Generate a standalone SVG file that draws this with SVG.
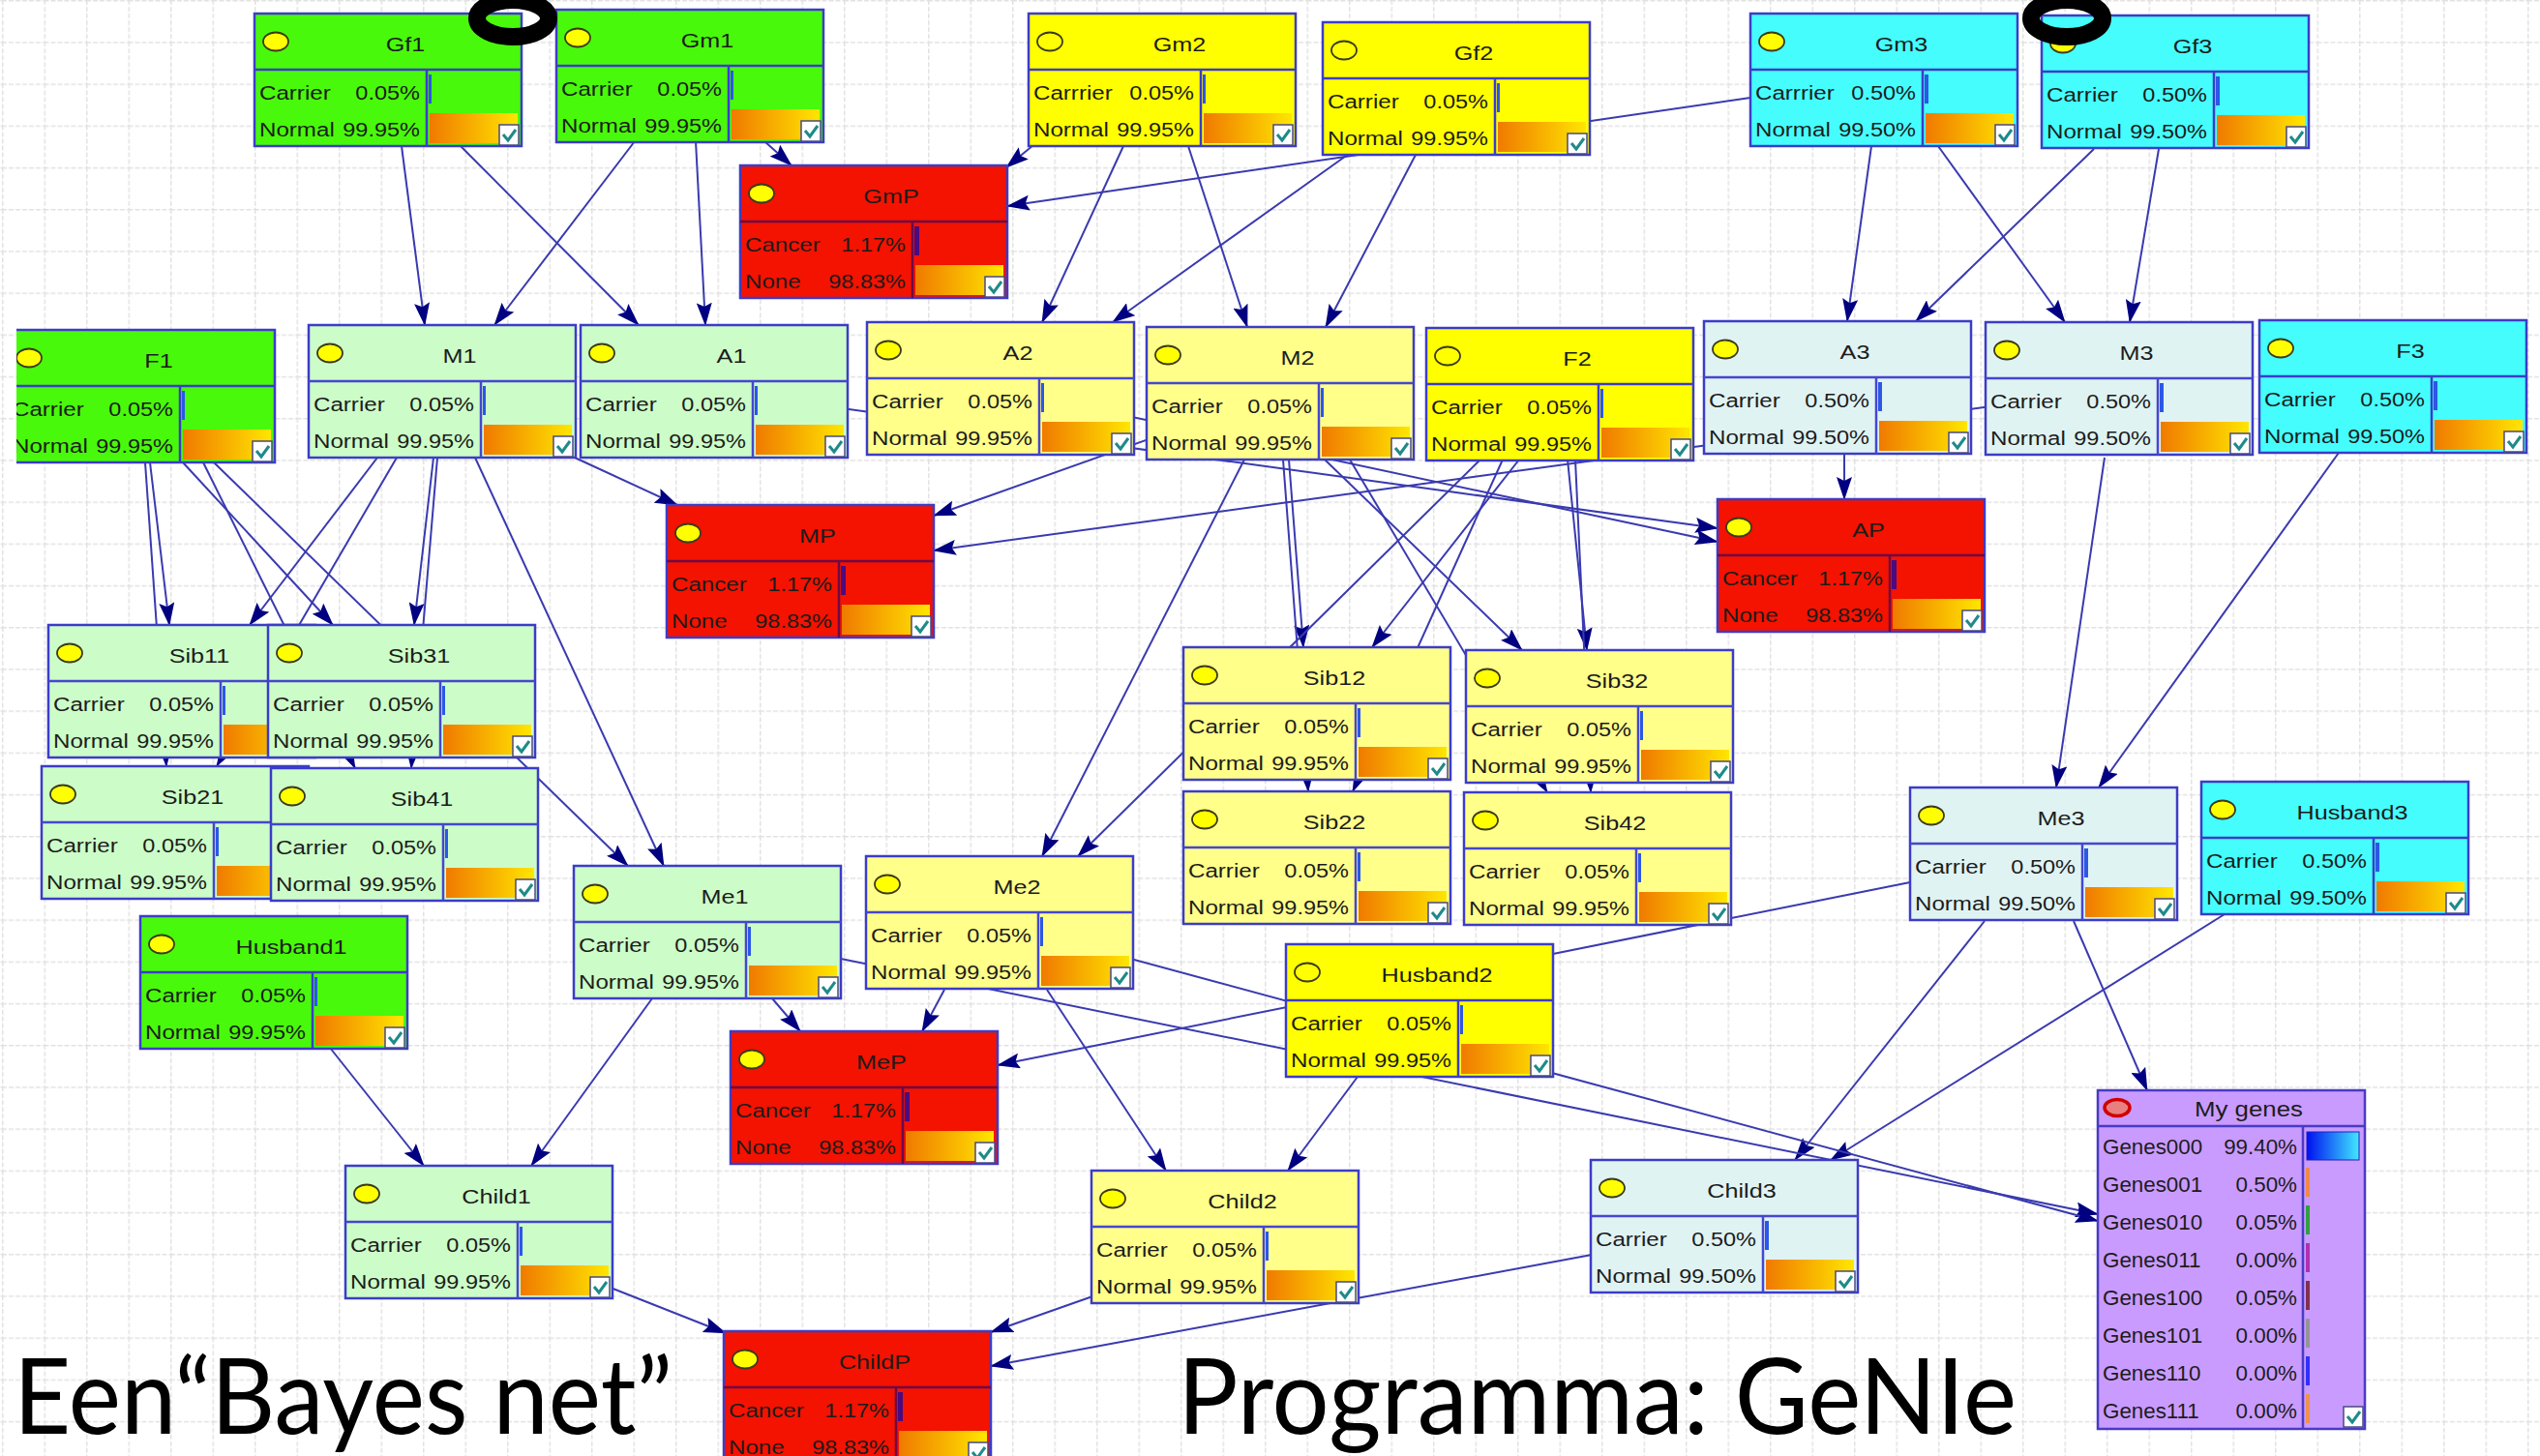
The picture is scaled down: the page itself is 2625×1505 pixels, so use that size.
<svg xmlns="http://www.w3.org/2000/svg" width="2625" height="1505" viewBox="0 0 2625 1505">
<style>
.n text{font-family:"Liberation Sans",Arial,sans-serif;font-size:21px;fill:#1c1c1c}
.n .tt{text-anchor:middle;transform-box:fill-box;transform-origin:center;transform:scaleX(1.2)}
.n .lb{transform-box:fill-box;transform-origin:left center;transform:scaleX(1.15)}
.n .vl{text-anchor:end;transform-box:fill-box;transform-origin:right center;transform:scaleX(1.12)}
.n .gx{font-size:21.5px}
.n .lb.gx{transform:scaleX(1.04)}
.n .vl.gx{transform:scaleX(1.04)}
.g1{fill:#49f90b;stroke:#3c3cc8}
.g2{fill:#ccfdc8;stroke:#4646d0}
.y1{fill:#ffff00;stroke:#3c3cc8}
.y2{fill:#ffff8a;stroke:#4646d0}
.c1{fill:#45fdfd;stroke:#3c3cc8}
.c2{fill:#e0f3f3;stroke:#4646d0}
.rd{fill:#f41200;stroke:#6c0a48}
.pb{fill:#2b58e6}
.pr{fill:#4a0a80}
.big{font-family:Lato,"Open Sans",sans-serif;font-size:108px;fill:#000}
.ring{fill:none;stroke:#000;stroke-width:18}
</style>
<defs>
<pattern id="grid" width="43.5" height="43.2" patternUnits="userSpaceOnUse" x="2" y="0">
<path d="M0.75,0V43.2M0,0.75H43.5" stroke="#e2e2e2" stroke-width="1.5" stroke-dasharray="5 2" fill="none"/>
</pattern>
<linearGradient id="og" x1="0" y1="0" x2="1" y2="0">
<stop offset="0" stop-color="#f07a00"/><stop offset="1" stop-color="#ffe600"/>
</linearGradient>
<linearGradient id="bb" x1="0" y1="0" x2="1" y2="0">
<stop offset="0" stop-color="#0010f0"/><stop offset="1" stop-color="#40e8ff"/>
</linearGradient>
<g id="chk">
<rect width="20" height="21" fill="#fff" stroke="#4a4a80" stroke-width="1.5"/>
<path d="M4,10 L9,16 L17,5" fill="none" stroke="#1f8a8a" stroke-width="3"/>
</g>
<!-- shared node frame: fill and divider stroke come from the referencing use -->
<g id="frame">
<rect width="276" height="137" stroke="#3c3cc8" stroke-width="2.5"/>
<path d="M0,58H276M178,58V137" fill="none" stroke-width="2.5"/>
<ellipse cx="22" cy="29" rx="13" ry="9.5" fill="#ffff00" stroke="#3a3a1a" stroke-width="1.8"/>
<rect x="181" y="103" width="91" height="31" fill="url(#og)" stroke="none"/>
<use href="#chk" x="253" y="115"/>
</g>
<marker id="ah" viewBox="0 0 24 16" refX="23" refY="8" markerWidth="24" markerHeight="16" orient="auto" markerUnits="userSpaceOnUse">
<path d="M0,0 L24,8 L0,16 L4,8 z" fill="#000080"/>
</marker>
<clipPath id="clipL"><rect x="17" y="0" width="600" height="1505"/></clipPath>
</defs>

<rect width="2625" height="1505" fill="#fff"/>
<rect width="2625" height="1505" fill="url(#grid)"/>

<g id="connectors" stroke="#3a3ab0" stroke-width="2" fill="none" marker-end="url(#ah)">
<line x1="415" y1="151" x2="439" y2="336"/>
<line x1="656" y1="146" x2="511" y2="336"/>
<line x1="476" y1="151" x2="660" y2="336"/>
<line x1="719" y1="146" x2="729" y2="336"/>
<line x1="790" y1="146" x2="818" y2="171"/>
<line x1="1068" y1="150" x2="1040" y2="173"/>
<line x1="1809" y1="101" x2="1041" y2="213"/>
<line x1="1161" y1="151" x2="1077" y2="333"/>
<line x1="1394" y1="159" x2="1150" y2="333"/>
<line x1="1228" y1="151" x2="1289" y2="338"/>
<line x1="1463" y1="160" x2="1370" y2="338"/>
<line x1="1934" y1="151" x2="1909" y2="332"/>
<line x1="2164" y1="154" x2="1980" y2="332"/>
<line x1="2003" y1="151" x2="2134" y2="333"/>
<line x1="2231" y1="154" x2="2201" y2="333"/>
<line x1="594" y1="473" x2="700" y2="522"/>
<line x1="1322" y1="406" x2="965" y2="533"/>
<line x1="2190" y1="402" x2="965" y2="569"/>
<line x1="738" y1="404" x2="1775" y2="546"/>
<line x1="1034" y1="402" x2="1775" y2="560"/>
<line x1="1906" y1="470" x2="1906" y2="516"/>
<line x1="155" y1="478" x2="175" y2="646"/>
<line x1="150" y1="478" x2="172" y2="792"/>
<line x1="189" y1="478" x2="344" y2="646"/>
<line x1="210" y1="478" x2="367" y2="794"/>
<line x1="221" y1="478" x2="649" y2="895"/>
<line x1="390" y1="473" x2="258" y2="646"/>
<line x1="410" y1="473" x2="224" y2="792"/>
<line x1="448" y1="473" x2="428" y2="646"/>
<line x1="452" y1="473" x2="425" y2="794"/>
<line x1="491" y1="473" x2="686" y2="895"/>
<line x1="1332" y1="475" x2="1347" y2="669"/>
<line x1="1326" y1="475" x2="1352" y2="818"/>
<line x1="1570" y1="475" x2="1418" y2="669"/>
<line x1="1553" y1="475" x2="1398" y2="818"/>
<line x1="1369" y1="475" x2="1573" y2="672"/>
<line x1="1395" y1="475" x2="1599" y2="819"/>
<line x1="1620" y1="475" x2="1640" y2="672"/>
<line x1="1628" y1="475" x2="1644" y2="819"/>
<line x1="1286" y1="475" x2="1077" y2="885"/>
<line x1="1530" y1="475" x2="1114" y2="885"/>
<line x1="2175" y1="473" x2="2125" y2="814"/>
<line x1="2417" y1="468" x2="2169" y2="814"/>
<line x1="798" y1="1032" x2="827" y2="1066"/>
<line x1="976" y1="1023" x2="953" y2="1066"/>
<line x1="1974" y1="912" x2="1031" y2="1101"/>
<line x1="674" y1="1032" x2="549" y2="1205"/>
<line x1="341" y1="1083" x2="438" y2="1205"/>
<line x1="1082" y1="1023" x2="1205" y2="1210"/>
<line x1="1403" y1="1113" x2="1331" y2="1210"/>
<line x1="2051" y1="952" x2="1855" y2="1199"/>
<line x1="2299" y1="945" x2="1892" y2="1199"/>
<line x1="2143" y1="952" x2="2219" y2="1127"/>
<line x1="731" y1="963" x2="2168" y2="1255"/>
<line x1="1032" y1="954" x2="2168" y2="1262"/>
<line x1="631" y1="1331" x2="750" y2="1378"/>
<line x1="1132" y1="1339" x2="1024" y2="1377"/>
<line x1="1645" y1="1297" x2="1024" y2="1412"/>
</g>

<!-- family 1 -->
<g id="node-Gf1" class="n" transform="translate(263,14)"><use href="#frame" class="g1"/><text class="tt" x="156" y="39">Gf1</text><text class="lb" x="5" y="89">Carrier</text><text class="vl" x="171" y="89">0.05%</text><text class="lb" x="5" y="127">Normal</text><text class="vl" x="171" y="127">99.95%</text><rect class="pb" x="180" y="63" width="3" height="30"/></g>
<g id="node-Gm1" class="n" transform="translate(575,10)"><use href="#frame" class="g1"/><text class="tt" x="156" y="39">Gm1</text><text class="lb" x="5" y="89">Carrier</text><text class="vl" x="171" y="89">0.05%</text><text class="lb" x="5" y="127">Normal</text><text class="vl" x="171" y="127">99.95%</text><rect class="pb" x="180" y="63" width="3" height="30"/></g>
<g id="node-F1" clip-path="url(#clipL)"><g class="n" transform="translate(8,341)"><use href="#frame" class="g1"/><text class="tt" x="156" y="39">F1</text><text class="lb" x="5" y="89">Carrier</text><text class="vl" x="171" y="89">0.05%</text><text class="lb" x="5" y="127">Normal</text><text class="vl" x="171" y="127">99.95%</text><rect class="pb" x="180" y="63" width="3" height="30"/></g></g>
<g id="node-M1" class="n" transform="translate(319,336)"><use href="#frame" class="g2"/><text class="tt" x="156" y="39">M1</text><text class="lb" x="5" y="89">Carrier</text><text class="vl" x="171" y="89">0.05%</text><text class="lb" x="5" y="127">Normal</text><text class="vl" x="171" y="127">99.95%</text><rect class="pb" x="180" y="63" width="3" height="30"/></g>
<g id="node-A1" class="n" transform="translate(600,336)"><use href="#frame" class="g2"/><text class="tt" x="156" y="39">A1</text><text class="lb" x="5" y="89">Carrier</text><text class="vl" x="171" y="89">0.05%</text><text class="lb" x="5" y="127">Normal</text><text class="vl" x="171" y="127">99.95%</text><rect class="pb" x="180" y="63" width="3" height="30"/></g>
<g id="node-Sib11" class="n" transform="translate(50,646)"><use href="#frame" class="g2"/><text class="tt" x="156" y="39">Sib11</text><text class="lb" x="5" y="89">Carrier</text><text class="vl" x="171" y="89">0.05%</text><text class="lb" x="5" y="127">Normal</text><text class="vl" x="171" y="127">99.95%</text><rect class="pb" x="180" y="63" width="3" height="30"/></g>
<g id="node-Sib31" class="n" transform="translate(277,646)"><use href="#frame" class="g2"/><text class="tt" x="156" y="39">Sib31</text><text class="lb" x="5" y="89">Carrier</text><text class="vl" x="171" y="89">0.05%</text><text class="lb" x="5" y="127">Normal</text><text class="vl" x="171" y="127">99.95%</text><rect class="pb" x="180" y="63" width="3" height="30"/></g>
<g id="node-Sib21" class="n" transform="translate(43,792)"><use href="#frame" class="g2"/><text class="tt" x="156" y="39">Sib21</text><text class="lb" x="5" y="89">Carrier</text><text class="vl" x="171" y="89">0.05%</text><text class="lb" x="5" y="127">Normal</text><text class="vl" x="171" y="127">99.95%</text><rect class="pb" x="180" y="63" width="3" height="30"/></g>
<g id="node-Sib41" class="n" transform="translate(280,794)"><use href="#frame" class="g2"/><text class="tt" x="156" y="39">Sib41</text><text class="lb" x="5" y="89">Carrier</text><text class="vl" x="171" y="89">0.05%</text><text class="lb" x="5" y="127">Normal</text><text class="vl" x="171" y="127">99.95%</text><rect class="pb" x="180" y="63" width="3" height="30"/></g>
<g id="node-Husband1" class="n" transform="translate(145,947)"><use href="#frame" class="g1"/><text class="tt" x="156" y="39">Husband1</text><text class="lb" x="5" y="89">Carrier</text><text class="vl" x="171" y="89">0.05%</text><text class="lb" x="5" y="127">Normal</text><text class="vl" x="171" y="127">99.95%</text><rect class="pb" x="180" y="63" width="3" height="30"/></g>
<g id="node-Me1" class="n" transform="translate(593,895)"><use href="#frame" class="g2"/><text class="tt" x="156" y="39">Me1</text><text class="lb" x="5" y="89">Carrier</text><text class="vl" x="171" y="89">0.05%</text><text class="lb" x="5" y="127">Normal</text><text class="vl" x="171" y="127">99.95%</text><rect class="pb" x="180" y="63" width="3" height="30"/></g>
<g id="node-Child1" class="n" transform="translate(357,1205)"><use href="#frame" class="g2"/><text class="tt" x="156" y="39">Child1</text><text class="lb" x="5" y="89">Carrier</text><text class="vl" x="171" y="89">0.05%</text><text class="lb" x="5" y="127">Normal</text><text class="vl" x="171" y="127">99.95%</text><rect class="pb" x="180" y="63" width="3" height="30"/></g>

<!-- family 2 -->
<g id="node-Gm2" class="n" transform="translate(1063,14)"><use href="#frame" class="y1"/><text class="tt" x="156" y="39">Gm2</text><text class="lb" x="5" y="89">Carrrier</text><text class="vl" x="171" y="89">0.05%</text><text class="lb" x="5" y="127">Normal</text><text class="vl" x="171" y="127">99.95%</text><rect class="pb" x="180" y="63" width="3" height="30"/></g>
<g id="node-Gf2" class="n" transform="translate(1367,23)"><use href="#frame" class="y1"/><text class="tt" x="156" y="39">Gf2</text><text class="lb" x="5" y="89">Carrier</text><text class="vl" x="171" y="89">0.05%</text><text class="lb" x="5" y="127">Normal</text><text class="vl" x="171" y="127">99.95%</text><rect class="pb" x="180" y="63" width="3" height="30"/></g>
<g id="node-A2" class="n" transform="translate(896,333)"><use href="#frame" class="y2"/><text class="tt" x="156" y="39">A2</text><text class="lb" x="5" y="89">Carrier</text><text class="vl" x="171" y="89">0.05%</text><text class="lb" x="5" y="127">Normal</text><text class="vl" x="171" y="127">99.95%</text><rect class="pb" x="180" y="63" width="3" height="30"/></g>
<g id="node-M2" class="n" transform="translate(1185,338)"><use href="#frame" class="y2"/><text class="tt" x="156" y="39">M2</text><text class="lb" x="5" y="89">Carrier</text><text class="vl" x="171" y="89">0.05%</text><text class="lb" x="5" y="127">Normal</text><text class="vl" x="171" y="127">99.95%</text><rect class="pb" x="180" y="63" width="3" height="30"/></g>
<g id="node-F2" class="n" transform="translate(1474,339)"><use href="#frame" class="y1"/><text class="tt" x="156" y="39">F2</text><text class="lb" x="5" y="89">Carrier</text><text class="vl" x="171" y="89">0.05%</text><text class="lb" x="5" y="127">Normal</text><text class="vl" x="171" y="127">99.95%</text><rect class="pb" x="180" y="63" width="3" height="30"/></g>
<g id="node-Sib12" class="n" transform="translate(1223,669)"><use href="#frame" class="y2"/><text class="tt" x="156" y="39">Sib12</text><text class="lb" x="5" y="89">Carrier</text><text class="vl" x="171" y="89">0.05%</text><text class="lb" x="5" y="127">Normal</text><text class="vl" x="171" y="127">99.95%</text><rect class="pb" x="180" y="63" width="3" height="30"/></g>
<g id="node-Sib32" class="n" transform="translate(1515,672)"><use href="#frame" class="y2"/><text class="tt" x="156" y="39">Sib32</text><text class="lb" x="5" y="89">Carrier</text><text class="vl" x="171" y="89">0.05%</text><text class="lb" x="5" y="127">Normal</text><text class="vl" x="171" y="127">99.95%</text><rect class="pb" x="180" y="63" width="3" height="30"/></g>
<g id="node-Sib22" class="n" transform="translate(1223,818)"><use href="#frame" class="y2"/><text class="tt" x="156" y="39">Sib22</text><text class="lb" x="5" y="89">Carrier</text><text class="vl" x="171" y="89">0.05%</text><text class="lb" x="5" y="127">Normal</text><text class="vl" x="171" y="127">99.95%</text><rect class="pb" x="180" y="63" width="3" height="30"/></g>
<g id="node-Sib42" class="n" transform="translate(1513,819)"><use href="#frame" class="y2"/><text class="tt" x="156" y="39">Sib42</text><text class="lb" x="5" y="89">Carrier</text><text class="vl" x="171" y="89">0.05%</text><text class="lb" x="5" y="127">Normal</text><text class="vl" x="171" y="127">99.95%</text><rect class="pb" x="180" y="63" width="3" height="30"/></g>
<g id="node-Me2" class="n" transform="translate(895,885)"><use href="#frame" class="y2"/><text class="tt" x="156" y="39">Me2</text><text class="lb" x="5" y="89">Carrier</text><text class="vl" x="171" y="89">0.05%</text><text class="lb" x="5" y="127">Normal</text><text class="vl" x="171" y="127">99.95%</text><rect class="pb" x="180" y="63" width="3" height="30"/></g>
<g id="node-Husband2" class="n" transform="translate(1329,976)"><use href="#frame" class="y1"/><text class="tt" x="156" y="39">Husband2</text><text class="lb" x="5" y="89">Carrier</text><text class="vl" x="171" y="89">0.05%</text><text class="lb" x="5" y="127">Normal</text><text class="vl" x="171" y="127">99.95%</text><rect class="pb" x="180" y="63" width="3" height="30"/></g>
<g id="node-Child2" class="n" transform="translate(1128,1210)"><use href="#frame" class="y2"/><text class="tt" x="156" y="39">Child2</text><text class="lb" x="5" y="89">Carrier</text><text class="vl" x="171" y="89">0.05%</text><text class="lb" x="5" y="127">Normal</text><text class="vl" x="171" y="127">99.95%</text><rect class="pb" x="180" y="63" width="3" height="30"/></g>

<!-- family 3 -->
<g id="node-Gm3" class="n" transform="translate(1809,14)"><use href="#frame" class="c1"/><text class="tt" x="156" y="39">Gm3</text><text class="lb" x="5" y="89">Carrrier</text><text class="vl" x="171" y="89">0.50%</text><text class="lb" x="5" y="127">Normal</text><text class="vl" x="171" y="127">99.50%</text><rect class="pb" x="180" y="63" width="4" height="30"/></g>
<g id="node-Gf3" class="n" transform="translate(2110,16)"><use href="#frame" class="c1"/><text class="tt" x="156" y="39">Gf3</text><text class="lb" x="5" y="89">Carrier</text><text class="vl" x="171" y="89">0.50%</text><text class="lb" x="5" y="127">Normal</text><text class="vl" x="171" y="127">99.50%</text><rect class="pb" x="180" y="63" width="4" height="30"/></g>
<g id="node-A3" class="n" transform="translate(1761,332)"><use href="#frame" class="c2"/><text class="tt" x="156" y="39">A3</text><text class="lb" x="5" y="89">Carrier</text><text class="vl" x="171" y="89">0.50%</text><text class="lb" x="5" y="127">Normal</text><text class="vl" x="171" y="127">99.50%</text><rect class="pb" x="180" y="63" width="4" height="30"/></g>
<g id="node-M3" class="n" transform="translate(2052,333)"><use href="#frame" class="c2"/><text class="tt" x="156" y="39">M3</text><text class="lb" x="5" y="89">Carrier</text><text class="vl" x="171" y="89">0.50%</text><text class="lb" x="5" y="127">Normal</text><text class="vl" x="171" y="127">99.50%</text><rect class="pb" x="180" y="63" width="4" height="30"/></g>
<g id="node-F3" class="n" transform="translate(2335,331)"><use href="#frame" class="c1"/><text class="tt" x="156" y="39">F3</text><text class="lb" x="5" y="89">Carrier</text><text class="vl" x="171" y="89">0.50%</text><text class="lb" x="5" y="127">Normal</text><text class="vl" x="171" y="127">99.50%</text><rect class="pb" x="180" y="63" width="4" height="30"/></g>
<g id="node-Me3" class="n" transform="translate(1974,814)"><use href="#frame" class="c2"/><text class="tt" x="156" y="39">Me3</text><text class="lb" x="5" y="89">Carrier</text><text class="vl" x="171" y="89">0.50%</text><text class="lb" x="5" y="127">Normal</text><text class="vl" x="171" y="127">99.50%</text><rect class="pb" x="180" y="63" width="4" height="30"/></g>
<g id="node-Husband3" class="n" transform="translate(2275,808)"><use href="#frame" class="c1"/><text class="tt" x="156" y="39">Husband3</text><text class="lb" x="5" y="89">Carrier</text><text class="vl" x="171" y="89">0.50%</text><text class="lb" x="5" y="127">Normal</text><text class="vl" x="171" y="127">99.50%</text><rect class="pb" x="180" y="63" width="4" height="30"/></g>
<g id="node-Child3" class="n" transform="translate(1644,1199)"><use href="#frame" class="c2"/><text class="tt" x="156" y="39">Child3</text><text class="lb" x="5" y="89">Carrier</text><text class="vl" x="171" y="89">0.50%</text><text class="lb" x="5" y="127">Normal</text><text class="vl" x="171" y="127">99.50%</text><rect class="pb" x="180" y="63" width="4" height="30"/></g>

<!-- cancer nodes -->
<g id="node-GmP" class="n" transform="translate(765,171)"><use href="#frame" class="rd"/><text class="tt" x="156" y="39">GmP</text><text class="lb" x="5" y="89">Cancer</text><text class="vl" x="171" y="89">1.17%</text><text class="lb" x="5" y="127">None</text><text class="vl" x="171" y="127">98.83%</text><rect class="pr" x="180" y="63" width="5" height="30"/></g>
<g id="node-MP" class="n" transform="translate(689,522)"><use href="#frame" class="rd"/><text class="tt" x="156" y="39">MP</text><text class="lb" x="5" y="89">Cancer</text><text class="vl" x="171" y="89">1.17%</text><text class="lb" x="5" y="127">None</text><text class="vl" x="171" y="127">98.83%</text><rect class="pr" x="180" y="63" width="5" height="30"/></g>
<g id="node-AP" class="n" transform="translate(1775,516)"><use href="#frame" class="rd"/><text class="tt" x="156" y="39">AP</text><text class="lb" x="5" y="89">Cancer</text><text class="vl" x="171" y="89">1.17%</text><text class="lb" x="5" y="127">None</text><text class="vl" x="171" y="127">98.83%</text><rect class="pr" x="180" y="63" width="5" height="30"/></g>
<g id="node-MeP" class="n" transform="translate(755,1066)"><use href="#frame" class="rd"/><text class="tt" x="156" y="39">MeP</text><text class="lb" x="5" y="89">Cancer</text><text class="vl" x="171" y="89">1.17%</text><text class="lb" x="5" y="127">None</text><text class="vl" x="171" y="127">98.83%</text><rect class="pr" x="180" y="63" width="5" height="30"/></g>
<g id="node-ChildP" class="n" transform="translate(748,1376)"><use href="#frame" class="rd"/><text class="tt" x="156" y="39">ChildP</text><text class="lb" x="5" y="89">Cancer</text><text class="vl" x="171" y="89">1.17%</text><text class="lb" x="5" y="127">None</text><text class="vl" x="171" y="127">98.83%</text><rect class="pr" x="180" y="63" width="5" height="30"/></g>

<!-- combined genotype node -->
<g id="node-MyGenes" class="n" transform="translate(2168,1127)">
<rect width="276" height="350" fill="#c99bff" stroke="#4a3ac4" stroke-width="2.5"/>
<path d="M0,37H276M212,37V350" fill="none" stroke="#4a3ac4" stroke-width="2.5"/>
<ellipse cx="20" cy="18" rx="13" ry="8.5" fill="#e88080" stroke="#d00000" stroke-width="3.5"/>
<text class="tt gx" x="156" y="27">My genes</text>
<text class="lb gx" x="5" y="66">Genes000</text><text class="vl gx" x="206" y="66">99.40%</text>
<text class="lb gx" x="5" y="105">Genes001</text><text class="vl gx" x="206" y="105">0.50%</text>
<text class="lb gx" x="5" y="144">Genes010</text><text class="vl gx" x="206" y="144">0.05%</text>
<text class="lb gx" x="5" y="183">Genes011</text><text class="vl gx" x="206" y="183">0.00%</text>
<text class="lb gx" x="5" y="222">Genes100</text><text class="vl gx" x="206" y="222">0.05%</text>
<text class="lb gx" x="5" y="261">Genes101</text><text class="vl gx" x="206" y="261">0.00%</text>
<text class="lb gx" x="5" y="300">Genes110</text><text class="vl gx" x="206" y="300">0.00%</text>
<text class="lb gx" x="5" y="339">Genes111</text><text class="vl gx" x="206" y="339">0.00%</text>
<rect x="216" y="43" width="54" height="29" fill="url(#bb)" stroke="#2020c0" stroke-width="1"/>
<rect x="215" y="80" width="4" height="30" fill="#f08a48"/>
<rect x="215" y="119" width="4" height="30" fill="#30a040"/>
<rect x="215" y="158" width="4" height="30" fill="#b030b0"/>
<rect x="215" y="197" width="4" height="30" fill="#803050"/>
<rect x="215" y="236" width="4" height="30" fill="#959595"/>
<rect x="215" y="275" width="4" height="30" fill="#3030ff"/>
<rect x="215" y="314" width="4" height="30" fill="#f09050"/>
<use href="#chk" x="254" y="327"/>
</g>

<!-- black loops hanging in from the top edge, over the nodes -->
<ellipse class="ring" cx="530" cy="19" rx="37" ry="19"/>
<ellipse class="ring" cx="2136" cy="19" rx="37" ry="19"/>

<text class="big" x="14" y="1482" textLength="681" lengthAdjust="spacingAndGlyphs">Een“Bayes net”</text>
<text class="big" x="1217" y="1482" textLength="867" lengthAdjust="spacingAndGlyphs">Programma: GeNIe</text>
</svg>
